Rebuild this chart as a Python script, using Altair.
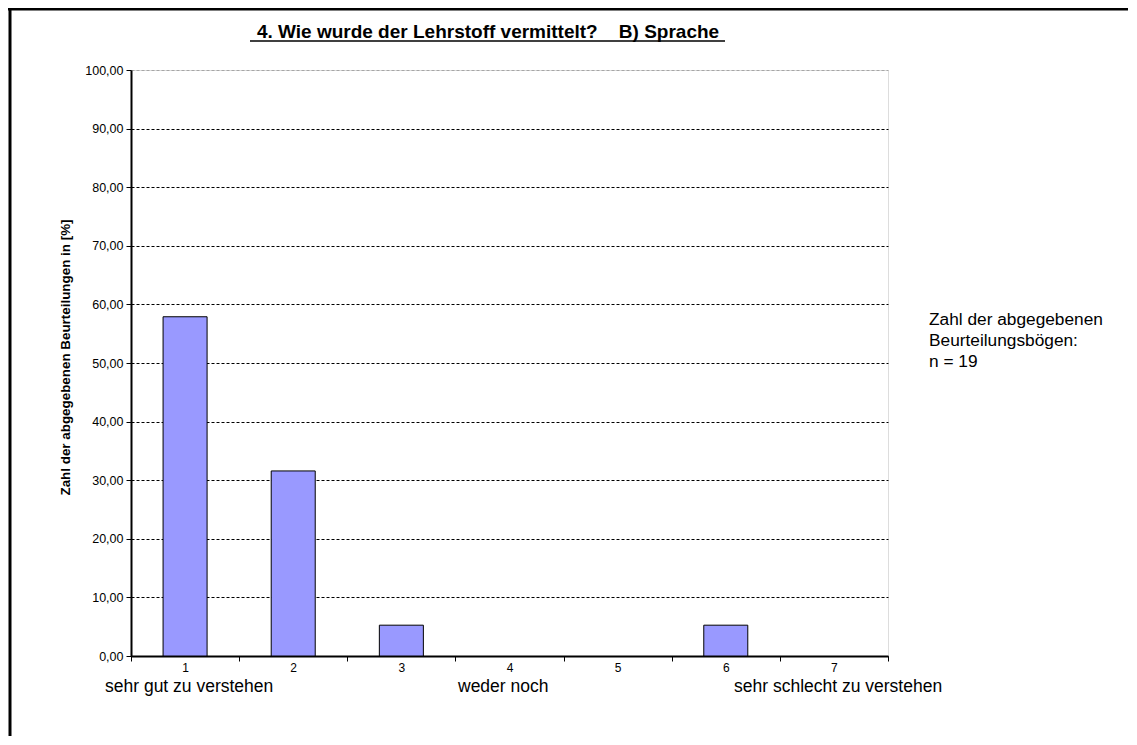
import altair as alt
import pandas as pd

# data
categories = ["1", "2", "3", "4", "5", "6", "7"]
values = [57.89, 31.58, 5.26, 0.0, 0.0, 5.26, 0.0]

title_text = "4. Wie wurde der Lehrstoff vermittelt?\u00a0\u00a0\u00a0 B) Sprache"
y_title = "Zahl der abgegebenen Beurteilungen in [%]"
scale_labels = ["sehr gut zu verstehen", "weder noch", "sehr schlecht zu verstehen"]
note_lines = ["Zahl der abgegebenen", "Beurteilungsbögen:", "n = 19"]

W, H = 757, 586
FONT = "Liberation Sans"

df = pd.DataFrame({"cat": categories, "val": values})

bars = alt.Chart(df).mark_bar(
    width=alt.RelativeBandSize(0.407), color="#9999FF", stroke="black", strokeWidth=1
).encode(
    x=alt.X("cat:O", sort=categories,
            scale=alt.Scale(paddingInner=0, paddingOuter=0),
            axis=alt.Axis(title=None, labelAngle=0, tickBand="extent",
                          domainColor="black", domainWidth=2,
                          tickColor="black", tickSize=5, tickWidth=1,
                          labelPadding=1, labelFontSize=12, labelFont=FONT,
                          labelColor="black")),
    y=alt.Y("val:Q", scale=alt.Scale(domain=[0, 100], nice=False),
            axis=alt.Axis(values=list(range(0, 101, 10)),
                          labelExpr="replace(format(datum.value, '.2f'), '.', ',')",
                          title=y_title, titleFont=FONT, titleFontSize=13.4,
                          titleFontWeight="bold", titleColor="black",
                          titleX=-66, titleY=H / 2 - 6, titleAlign="center",
                          titleBaseline="middle", titleAngle=270,
                          grid=True,
                          gridColor=alt.condition("datum.value == 100", alt.value("#A6A6A6"), alt.value("black")),
                          gridDash=[3, 2], gridWidth=1,
                          domainColor="black", domainWidth=2,
                          tickColor="black", tickSize=5, tickWidth=1,
                          labelPadding=3, labelFontSize=12.5, labelFont=FONT,
                          labelColor="black")),
    strokeOpacity=alt.condition("datum.val == 0", alt.value(0), alt.value(1)),
)

title_df = pd.DataFrame({"t": [title_text]})
title = alt.Chart(title_df).mark_text(
    font=FONT, fontSize=19, fontWeight="bold", color="black",
    align="center", baseline="alphabetic"
).encode(text="t:N", x=alt.value(488 - 131), y=alt.value(38 - 70))

underline = alt.Chart(title_df).mark_rule(color="black", strokeWidth=1.5).encode(
    x=alt.value(250 - 131), x2=alt.value(725 - 131), y=alt.value(41 - 70))

bottom_df = pd.DataFrame({"t": scale_labels, "px": [105 - 131, 458 - 131, 734 - 131]})
bottom = alt.Chart(bottom_df).mark_text(
    font=FONT, fontSize=17.5, color="black", align="left", baseline="middle"
).encode(text="t:N", x=alt.X("px:Q", scale=None), y=alt.value(687 - 70))

note_df = pd.DataFrame({"t": note_lines, "py": [320 - 70, 341 - 70, 362 - 70]})
note = alt.Chart(note_df).mark_text(
    font=FONT, fontSize=17.3, color="black", align="left", baseline="middle"
).encode(text="t:N", x=alt.value(929 - 131), y=alt.Y("py:Q", scale=None))

border_top = alt.Chart(title_df).mark_rule(color="black", strokeWidth=3).encode(
    x=alt.value(-123), x2=alt.value(W + 240), y=alt.value(-61))
border_left = alt.Chart(title_df).mark_rule(color="black", strokeWidth=3).encode(
    x=alt.value(-121), y=alt.value(-62), y2=alt.value(H + 80))

chart = alt.layer(bars, title, underline, bottom, note, border_top, border_left).properties(
    width=W, height=H,
    autosize=alt.AutoSizeParams(type="none"),
    padding={"left": 123, "top": 62, "right": 240, "bottom": 80},
).configure_view(stroke="#A6A6A6", strokeWidth=2).configure(background="white")

chart.save("out.html", embed_options={"renderer": "svg", "actions": False})
